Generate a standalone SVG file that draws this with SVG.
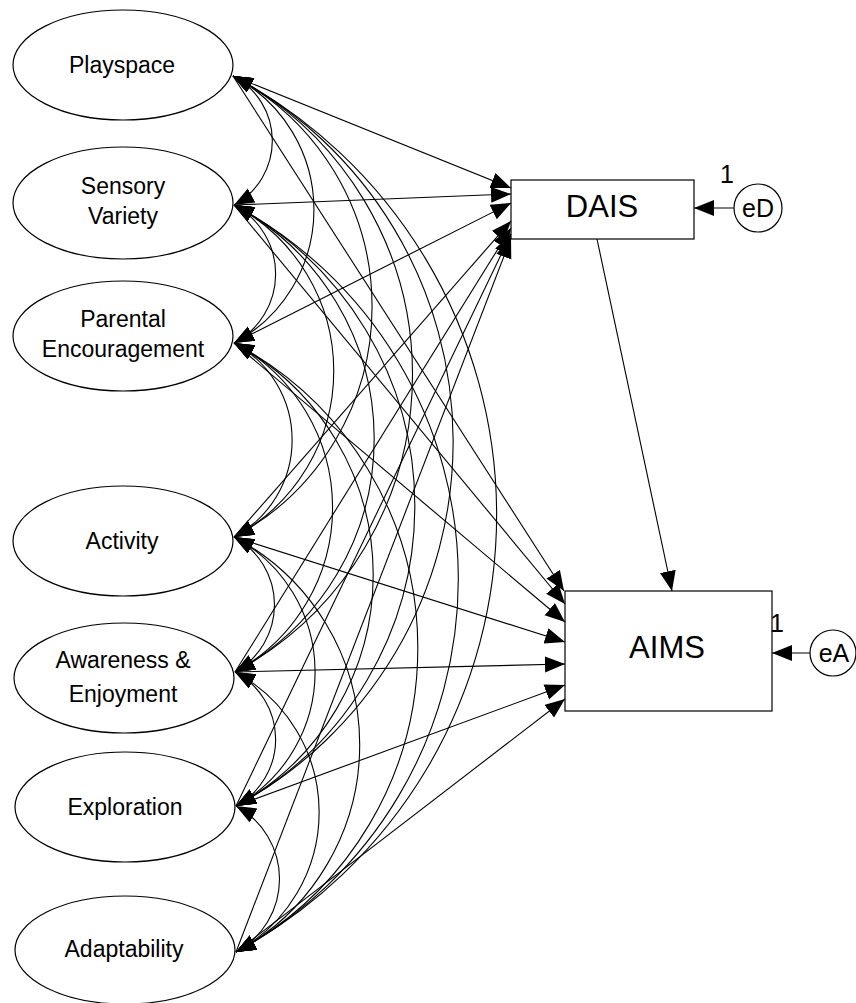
<svg xmlns="http://www.w3.org/2000/svg" width="856" height="1003" viewBox="0 0 856 1003">
<style>
.node{fill:#fff;stroke:#000;stroke-width:1.2}
.lbl{font-family:"Liberation Sans",Arial,sans-serif;font-size:23px;fill:#000;text-anchor:middle}
.big{font-family:"Liberation Sans",Arial,sans-serif;font-size:31px;fill:#000;text-anchor:middle}
.err{font-family:"Liberation Sans",Arial,sans-serif;font-size:25px;fill:#000;text-anchor:middle}
.one{font-family:"Liberation Sans",Arial,sans-serif;font-size:25px;fill:#000;text-anchor:middle}
.reg{fill:none;stroke:#000;stroke-width:1.1;marker-end:url(#ah)}
.cov{fill:none;stroke:#000;stroke-width:1.1;marker-start:url(#ahs);marker-end:url(#ah)}
</style>
<defs>
<marker id="ah" markerUnits="userSpaceOnUse" markerWidth="22" markerHeight="17" refX="20" refY="8" orient="auto">
<path d="M0,0 L20,8 L0,16 z" fill="#000"/>
</marker>
<marker id="ahs" markerUnits="userSpaceOnUse" markerWidth="22" markerHeight="17" refX="20" refY="8" orient="auto-start-reverse">
<path d="M0,0 L20,8 L0,16 z" fill="#000"/>
</marker>
</defs>
<rect width="856" height="1003" fill="#fff"/>

<g id="playspace"><ellipse class="node" cx="123" cy="65" rx="110" ry="55"/><text class="lbl" x="122" y="73">Playspace</text></g>
<g id="sensory"><ellipse class="node" cx="123" cy="203" rx="110" ry="56"/><text class="lbl" x="123" y="194">Sensory</text><text class="lbl" x="123" y="224">Variety</text></g>
<g id="parental"><ellipse class="node" cx="123" cy="336" rx="110" ry="55"/><text class="lbl" x="123" y="327">Parental</text><text class="lbl" x="123" y="357">Encouragement</text></g>
<g id="activity"><ellipse class="node" cx="123" cy="541" rx="110" ry="55"/><text class="lbl" x="122" y="549">Activity</text></g>
<g id="awareness"><ellipse class="node" cx="124" cy="678" rx="110" ry="55"/><text class="lbl" x="123" y="668">Awareness &amp;</text><text class="lbl" x="123" y="702">Enjoyment</text></g>
<g id="exploration"><ellipse class="node" cx="125" cy="807" rx="110" ry="55"/><text class="lbl" x="125" y="815">Exploration</text></g>
<g id="adaptability"><ellipse class="node" cx="125" cy="950" rx="110" ry="54"/><text class="lbl" x="124" y="957">Adaptability</text></g>

<g id="dais"><rect class="node" x="511" y="180" width="183" height="59"/><text class="big" x="602" y="217">DAIS</text></g>
<g id="aims"><rect class="node" x="565" y="591" width="207" height="120"/><text class="big" x="667" y="658">AIMS</text></g>
<g id="eD"><circle class="node" cx="758" cy="208" r="24"/><text class="err" x="758" y="217">eD</text></g>
<g id="eA"><circle class="node" cx="833" cy="653" r="23"/><text class="err" x="834" y="662">eA</text></g>

<g id="connectors">
<path class="cov" d="M233,76 A73,73 0 0 1 234,205"/>
<path class="cov" d="M233,76 A151,151 0 0 1 234,343"/>
<path class="cov" d="M233,76 A261,261 0 0 1 234,537"/>
<path class="cov" d="M233,76 A338,338 0 0 1 235,672"/>
<path class="cov" d="M233,76 A414,414 0 0 1 236,806"/>
<path class="cov" d="M233,76 A497,497 0 0 1 236,952"/>
<path class="cov" d="M234,205 A78,78 0 0 1 234,343"/>
<path class="cov" d="M234,205 A188,188 0 0 1 234,537"/>
<path class="cov" d="M234,205 A265,265 0 0 1 235,672"/>
<path class="cov" d="M234,205 A341,341 0 0 1 236,806"/>
<path class="cov" d="M234,205 A424,424 0 0 1 236,952"/>
<path class="cov" d="M234,343 A110,110 0 0 1 234,537"/>
<path class="cov" d="M234,343 A187,187 0 0 1 235,672"/>
<path class="cov" d="M234,343 A263,263 0 0 1 236,806"/>
<path class="cov" d="M234,343 A345,345 0 0 1 236,952"/>
<path class="cov" d="M234,537 A77,77 0 0 1 235,672"/>
<path class="cov" d="M234,537 A153,153 0 0 1 236,806"/>
<path class="cov" d="M234,537 A235,235 0 0 1 236,952"/>
<path class="cov" d="M235,672 A76,76 0 0 1 236,806"/>
<path class="cov" d="M235,672 A159,159 0 0 1 236,952"/>
<path class="cov" d="M236,806 A83,83 0 0 1 236,952"/>
<path class="reg" d="M233,76 L511,188"/>
<path class="reg" d="M234,205 L511,194"/>
<path class="reg" d="M234,343 L511,203"/>
<path class="reg" d="M234,537 L511,221"/>
<path class="reg" d="M235,672 L511,228"/>
<path class="reg" d="M236,806 L511,234"/>
<path class="reg" d="M236,952 L511,238"/>
<path class="reg" d="M233,76 L564,591"/>
<path class="reg" d="M234,205 L565,604"/>
<path class="reg" d="M234,343 L565,622"/>
<path class="reg" d="M234,537 L565,642"/>
<path class="reg" d="M235,672 L565,664"/>
<path class="reg" d="M236,806 L565,685"/>
<path class="reg" d="M236,952 L565,699"/>
<path class="reg" d="M597,239 L672,591"/>
<path class="reg" d="M734,208 L694,208"/>
<path class="reg" d="M810,653 L772,653"/>
</g>

<text class="one" x="727" y="183">1</text>
<text class="one" x="777" y="632">1</text>
</svg>
